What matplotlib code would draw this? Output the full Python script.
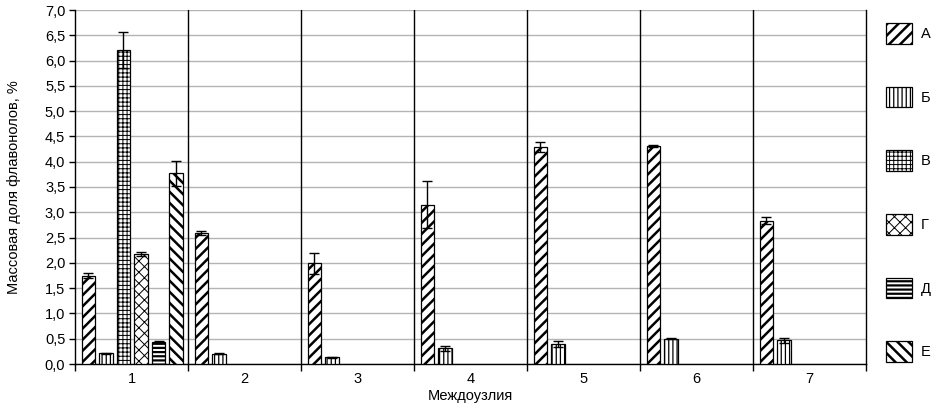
import numpy as np
import matplotlib
matplotlib.use("Agg")
import matplotlib.pyplot as plt
from matplotlib.patches import Patch
from matplotlib.ticker import FuncFormatter, MultipleLocator, FixedLocator

plt.rcParams['font.family'] = ['Liberation Sans', 'DejaVu Sans']

categories = ['1', '2', '3', '4', '5', '6', '7']
series_names = ['А', 'Б', 'В', 'Г', 'Д', 'Е']
nan = np.nan
values = {
    'А': [1.75, 2.59, 1.99, 3.15, 4.29, 4.32, 2.83],
    'Б': [0.21, 0.20, 0.13, 0.31, 0.39, 0.50, 0.47],
    'В': [6.21, nan, nan, nan, nan, nan, nan],
    'Г': [2.18, nan, nan, nan, nan, nan, nan],
    'Д': [0.44, nan, nan, nan, nan, nan, nan],
    'Е': [3.77, nan, nan, nan, nan, nan, nan],
}
errors = {
    'А': [0.04, 0.04, 0.21, 0.47, 0.10, 0.02, 0.07],
    'Б': [0.01, 0.01, 0.01, 0.05, 0.06, 0.01, 0.05],
    'В': [0.36, nan, nan, nan, nan, nan, nan],
    'Г': [0.04, nan, nan, nan, nan, nan, nan],
    'Д': [0.02, nan, nan, nan, nan, nan, nan],
    'Е': [0.25, nan, nan, nan, nan, nan, nan],
}
hatches = {'А': '///', 'Б': '||||', 'В': '++++', 'Г': 'xxx', 'Д': '----', 'Е': '\\\\\\'}
hatch_lw = {'А': 1.8, 'Б': 0.9, 'В': 0.7, 'Г': 0.7, 'Д': 1.6, 'Е': 1.8}


def wrap_draw(artist, lw):
    orig = artist.draw

    def draw(renderer, *args, **kwargs):
        with plt.rc_context({'hatch.linewidth': lw}):
            return orig(renderer, *args, **kwargs)
    artist.draw = draw
    if hasattr(artist, 'set_hatch_linewidth'):
        try:
            artist.set_hatch_linewidth(lw)
        except Exception:
            pass


fig = plt.figure(figsize=(9.35, 4.12), dpi=100)
ax = fig.add_axes([75/935, 48/412, (866-75)/935, (364-10)/412])

x = np.arange(1, len(categories) + 1)
pitch = 0.155
width = 0.118
offsets = -0.381 + pitch * np.arange(len(series_names))

handles = []
for i, name in enumerate(series_names):
    bars = ax.bar(x + offsets[i], values[name], width=width, color='white',
                  edgecolor='black', linewidth=0.9, hatch=hatches[name], zorder=3)
    for b in bars:
        wrap_draw(b, hatch_lw[name])
    ax.errorbar(x + offsets[i], values[name], yerr=errors[name], fmt='none',
                ecolor='black', elinewidth=1.0, capsize=3.5, capthick=1.0, zorder=4)
    handles.append(Patch(facecolor='white', edgecolor='black', linewidth=0.9,
                         hatch=hatches[name]))

ax.set_xlim(0.5, len(categories) + 0.5)
ax.set_ylim(0, 7.0)
ax.yaxis.set_major_locator(MultipleLocator(0.5))
ax.yaxis.set_major_formatter(FuncFormatter(lambda v, p: f"{v:.1f}".replace('.', ',')))
ax.grid(axis='y', color='#b4b4b4', linewidth=1.0, zorder=0)
ax.set_axisbelow(True)

ax.set_xticks(x)
ax.set_xticklabels(categories)
ax.xaxis.set_minor_locator(FixedLocator(np.arange(0.5, len(categories) + 1, 1.0)))
ax.tick_params(axis='x', which='major', length=0, pad=6, labelsize=10.5)
ax.tick_params(axis='x', which='minor', length=5, width=1, direction='out')
ax.tick_params(axis='y', length=4, width=1, direction='out', labelsize=10.5, pad=3)

for b in np.arange(1.5, len(categories), 1.0):
    ax.axvline(b, color='black', linewidth=1.0, zorder=2)

ax.spines['top'].set_visible(False)
for s in ['left', 'right', 'bottom']:
    ax.spines[s].set_color('black')
    ax.spines[s].set_linewidth(1.0)

ax.set_xlabel('Междоузлия', fontsize=10.5, labelpad=2)
ax.set_ylabel('Массовая доля флавонолов, %', fontsize=10.5, labelpad=17)

leg = fig.legend(handles, series_names, loc='upper left', bbox_to_anchor=(886/935, 1 - 23/412),
                 frameon=False, fontsize=10.5, handlelength=1.8, handleheight=1.8,
                 labelspacing=2.95, handletextpad=0.6, borderpad=0, borderaxespad=0)
for p, name in zip(leg.get_patches(), series_names):
    wrap_draw(p, hatch_lw[name])

fig.savefig('out.png', dpi=100)
